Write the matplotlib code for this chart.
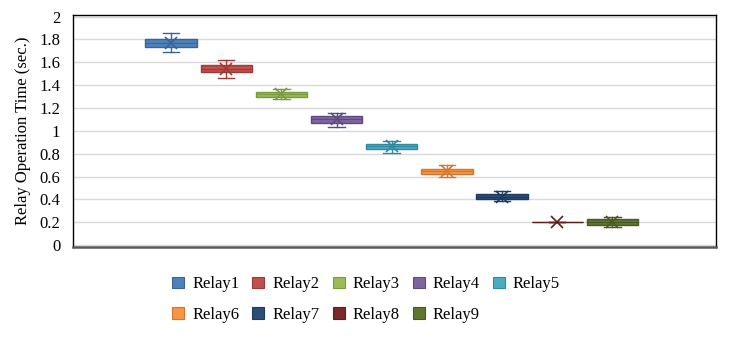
import matplotlib
matplotlib.use("Agg")
import matplotlib.pyplot as plt
from matplotlib.patches import Patch

plt.rcParams["font.family"] = ["Liberation Serif", "DejaVu Serif"]

relays = ["Relay1", "Relay2", "Relay3", "Relay4", "Relay5",
          "Relay6", "Relay7", "Relay8", "Relay9"]
colors = ["#4F81BD", "#C0504D", "#9BBB59", "#8064A2", "#4BACC6",
          "#F79646", "#2C4D75", "#772C2A", "#5F7530"]
edge_colors = ["#3A6496", "#9A3B38", "#7A9A40", "#5F4A7E", "#3189A0",
               "#D07830", "#1E3A5C", "#5E1F1D", "#485A22"]

# box statistics (seconds)
whis_lo = [1.688, 1.466, 1.280, 1.030, 0.805, 0.600, 0.385, 0.200, 0.160]
q1 = [1.736, 1.512, 1.297, 1.071, 0.842, 0.623, 0.403, 0.200, 0.174]
median = [1.770, 1.545, 1.322, 1.100, 0.866, 0.645, 0.425, 0.200, 0.205]
q3 = [1.800, 1.574, 1.344, 1.126, 0.889, 0.667, 0.449, 0.200, 0.233]
whis_hi = [1.853, 1.620, 1.365, 1.153, 0.909, 0.697, 0.470, 0.200, 0.248]
mean = [1.770, 1.545, 1.322, 1.100, 0.866, 0.645, 0.425, 0.200, 0.205]

fig = plt.figure(figsize=(7.32, 3.39), dpi=100)
ax = fig.add_axes([0.0995, 0.270, 0.878, 0.686])

for i in range(len(relays)):
    stats = [{
        "whislo": whis_lo[i], "q1": q1[i], "med": median[i],
        "q3": q3[i], "whishi": whis_hi[i], "mean": mean[i], "fliers": [],
    }]
    ax.bxp(
        stats,
        positions=[i + 1],
        widths=0.93,
        capwidths=0.3,
        patch_artist=True,
        showmeans=True,
        boxprops=dict(facecolor=colors[i], edgecolor=edge_colors[i], linewidth=1.0),
        medianprops=dict(color=edge_colors[i], linewidth=0.8),
        whiskerprops=dict(color=edge_colors[i], linewidth=1.0),
        capprops=dict(color=edge_colors[i], linewidth=1.0),
        meanprops=dict(marker="x", markeredgecolor=edge_colors[i],
                       markersize=9, markeredgewidth=1.2),
        zorder=3,
    )

ax.set_xlim(-0.78, 10.87)
ax.set_ylim(-0.02, 2.014)
ax.set_yticks([0, 0.2, 0.4, 0.6, 0.8, 1, 1.2, 1.4, 1.6, 1.8, 2])
ax.set_yticklabels(["0", "0.2", "0.4", "0.6", "0.8", "1", "1.2", "1.4",
                    "1.6", "1.8", "2"])
ax.set_xticks([])
ax.tick_params(axis="y", length=0, pad=9, labelsize=12)
ax.grid(axis="y", color="#D9D9D9", linewidth=1.0, zorder=0)
ax.set_axisbelow(True)
for side in ["left", "top", "right"]:
    ax.spines[side].set_color("black")
    ax.spines[side].set_linewidth(1.0)
ax.spines["bottom"].set_color("#595959")
ax.spines["bottom"].set_linewidth(1.8)
ax.set_ylabel("Relay Operation Time (sec.)", fontsize=12, labelpad=6)

handles = [Patch(facecolor=c, edgecolor=e, linewidth=0.8, label=r)
           for c, e, r in zip(colors, edge_colors, relays)]
# legend fills column by column, so interleave to get rows Relay1-5 / Relay6-9
order = [0, 5, 1, 6, 2, 7, 3, 8, 4]
fig.legend(handles=[handles[k] for k in order], loc="upper center",
           bbox_to_anchor=(0.5, 0.229), ncol=5, frameon=False, fontsize=12,
           handlelength=0.72, handleheight=0.72, handletextpad=0.46,
           columnspacing=0.8, labelspacing=0.87)

fig.savefig("out.png", dpi=100)
